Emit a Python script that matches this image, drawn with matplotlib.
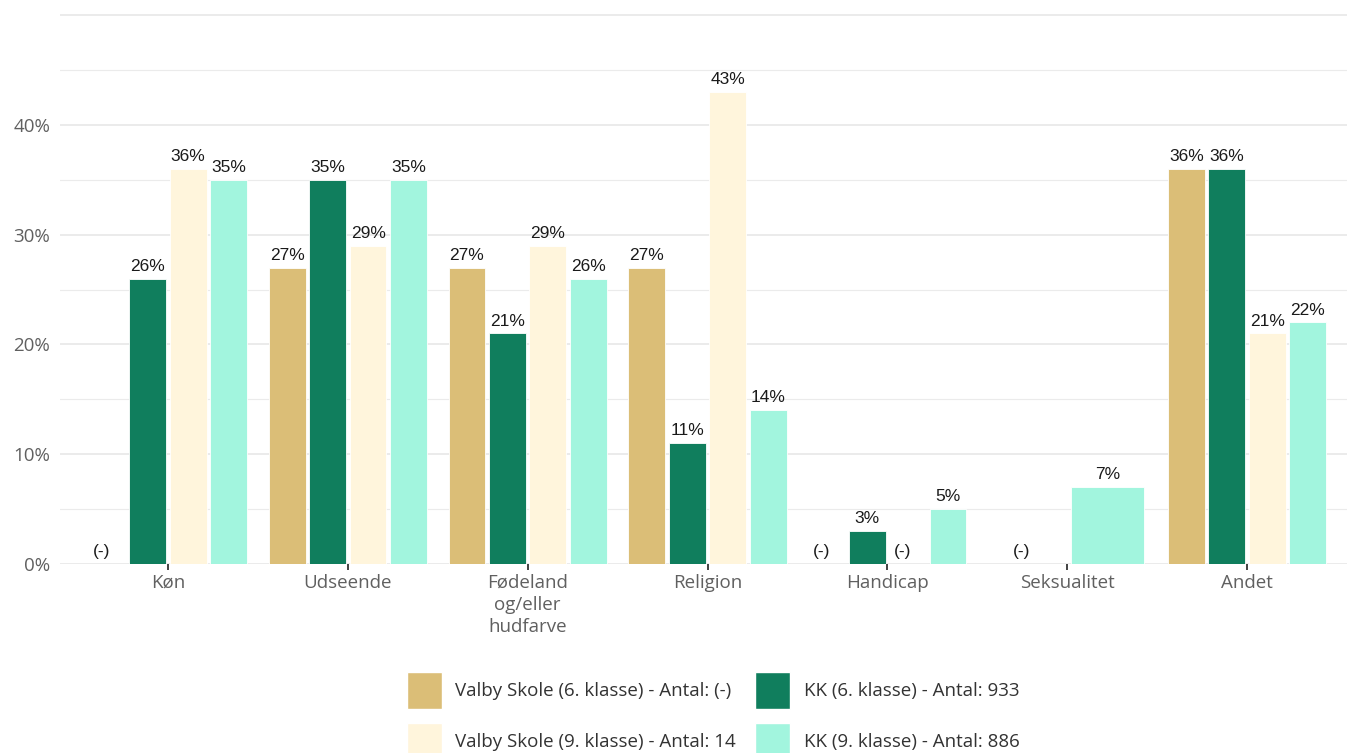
import numpy as np
import matplotlib
matplotlib.use("Agg")
import matplotlib.pyplot as plt
from matplotlib.patches import Patch

# ---- data ----
categories = ["Køn", "Udseende", "Fødeland\nog/eller\nhudfarve", "Religion",
              "Handicap", "Seksualitet", "Andet"]
series_names = ["Valby Skole (6. klasse) - Antal: (-)",
                "KK (6. klasse) - Antal: 933",
                "Valby Skole (9. klasse) - Antal: 14",
                "KK (9. klasse) - Antal: 886"]
# nan = suppressed, shown as "(-)"; None = not present in the group
valby6 = [np.nan, 27, 27, 27, np.nan, np.nan, 36]
kk6 = [26, 35, 21, 11, 3, None, 36]
valby9 = [36, 29, 29, 43, np.nan, None, 21]
kk9 = [35, 35, 26, 14, 5, 7, 22]
colors = ["#DBBE77", "#107E5D", "#FFF5DC", "#A2F5DE"]
y_ticks = [0, 10, 20, 30, 40]
y_tick_labels = ["0%", "10%", "20%", "30%", "40%"]

series = [valby6, kk6, valby9, kk9]

W, H = 1347, 753
fig = plt.figure(figsize=(W / 100, H / 100), dpi=100)
ax = fig.add_axes([60 / W, 1 - 564 / H, (W - 60) / W, (564 - 14) / H])

label_font = ["Liberation Sans", "DejaVu Sans"]
axis_font = ["Open Sans", "DejaVu Sans"]

for gi, cat in enumerate(categories):
    x0 = gi + 1
    present = [si for si in range(4) if series[si][gi] is not None]
    n = len(present)
    slot = 0.9 / n
    for k, si in enumerate(present):
        v = series[si][gi]
        xc = x0 - 0.45 + slot * (k + 0.5)
        if v is not None and not (isinstance(v, float) and np.isnan(v)):
            ax.bar(xc, v, width=slot * 0.91, color=colors[si], edgecolor="white",
                   linewidth=0.6, zorder=3)
            ax.text(xc, v + 0.45, f"{v}%", ha="center", va="bottom",
                    fontsize=12.5, color="#1a1a1a", family=label_font, zorder=4)
        else:
            ax.text(xc - 0.03, 0.45, "(-)", ha="center", va="bottom",
                    fontsize=12.5, color="#1a1a1a", family=label_font, zorder=4)

unit = (1247 - 168) / 6
ax.set_xlim(1 - 108 / unit, 7 + 100 / unit)
ax.set_ylim(0, 50.1)

# grid
for y in np.arange(0, 50.1, 5):
    major = (y % 10 == 0)
    ax.axhline(y, color="#EBEBEB", linewidth=1.4 if major else 0.8, zorder=1)

ax.set_yticks(y_ticks)
ax.set_yticklabels(y_tick_labels, family=axis_font, fontsize=13.5, color="#606060")
ax.tick_params(axis="y", length=0, pad=7)
ax.set_xticks(range(1, 8))
ax.set_xticklabels(categories, family=axis_font, fontsize=13.5, color="#606060",
                   linespacing=1.3)
ax.tick_params(axis="x", length=4, width=1.2, color="#222222", pad=3)

for s in ax.spines.values():
    s.set_visible(False)

handles = [Patch(facecolor=c, edgecolor="white") for c in colors]
order = [0, 2, 1, 3]
leg = fig.legend([handles[i] for i in order], [series_names[i] for i in order],
                 ncol=2, loc="upper center", bbox_to_anchor=(713 / W, 1 - 663 / H),
                 frameon=False, borderpad=0, handlelength=1.87, handleheight=2.6,
                 labelspacing=0.75, columnspacing=1.05, handletextpad=0.7,
                 prop={"family": axis_font, "size": 13.5})
for t in leg.get_texts():
    t.set_color("#333333")

fig.savefig("out.png", dpi=100)
